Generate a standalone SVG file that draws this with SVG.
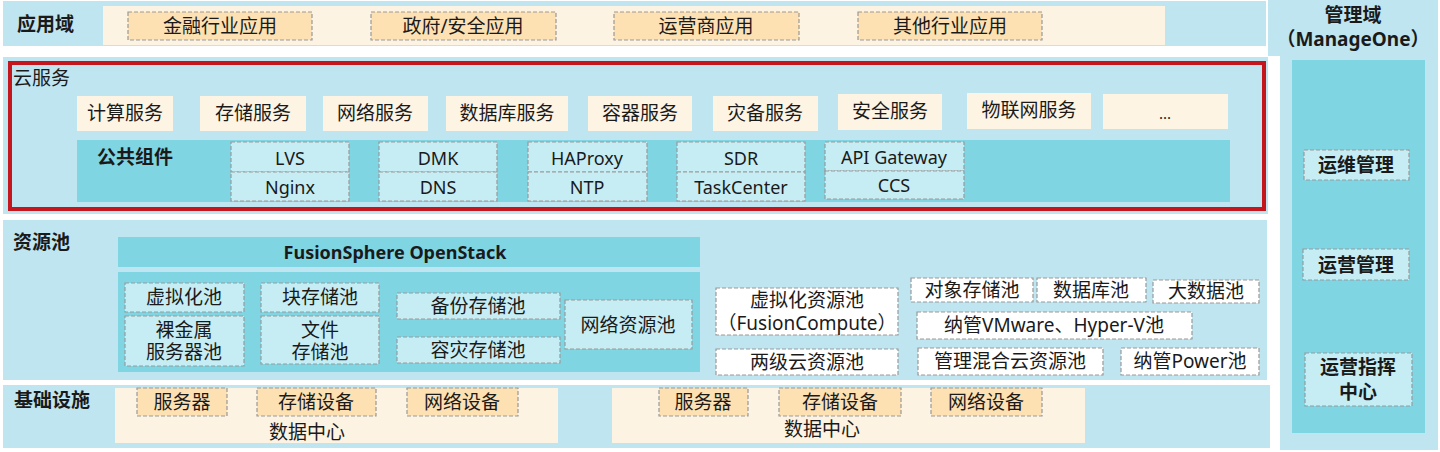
<svg xmlns="http://www.w3.org/2000/svg" width="1440" height="452" viewBox="0 0 1440 452">
<style>
text{font-family:"Noto Sans","Noto Sans CJK SC",sans-serif;font-size:19px;fill:#1a1a1a;text-anchor:middle;dominant-baseline:central}
.lbl{text-anchor:start;font-weight:bold}
.b{font-weight:bold}
.band{fill:#bfe5f0}
.dark{fill:#80d5e3}
.cream{fill:#fdf3e2}
.svc{fill:#fdf4e4}
.app{fill:#fde1b3;stroke:#999;stroke-width:1.2;stroke-dasharray:4 2}
.cmp{fill:#c7edf4;stroke:#999;stroke-width:1.2;stroke-dasharray:4 2}
.wht{fill:#ffffff;stroke:#999;stroke-width:1.2;stroke-dasharray:4 2}
.cmpt{font-size:18px}
</style>
<rect width="1440" height="452" fill="#ffffff"/>

<g id="app-domain">
<rect class="band" x="3" y="1" width="1263" height="45"/>
<rect class="cream" x="103" y="6" width="1062" height="39"/>
<text class="lbl" x="17" y="24">应用域</text>
<g id="app-finance"><rect class="app" x="128" y="12" width="184" height="28"/><text x="220" y="26">金融行业应用</text></g>
<g id="app-gov"><rect class="app" x="371" y="12" width="185" height="28"/><text x="463" y="26">政府/安全应用</text></g>
<g id="app-carrier"><rect class="app" x="614" y="12" width="185" height="28"/><text x="706" y="26">运营商应用</text></g>
<g id="app-other"><rect class="app" x="858" y="12" width="184" height="28"/><text x="950" y="26">其他行业应用</text></g>
</g>

<g id="cloud-service">
<rect class="band" x="3" y="57" width="1265" height="157"/>
<rect x="10" y="63" width="1254" height="146" fill="#bfe5f0" stroke="#c4161c" stroke-width="4"/>
<text x="13" y="78" style="text-anchor:start">云服务</text>
<g id="svc-compute"><rect class="svc" x="77" y="96" width="96" height="35"/><text x="125" y="113">计算服务</text></g>
<g id="svc-storage"><rect class="svc" x="200" y="96" width="106" height="35"/><text x="253" y="113">存储服务</text></g>
<g id="svc-network"><rect class="svc" x="323" y="96" width="105" height="35"/><text x="375" y="113">网络服务</text></g>
<g id="svc-db"><rect class="svc" x="446" y="96" width="122" height="35"/><text x="507" y="113">数据库服务</text></g>
<g id="svc-container"><rect class="svc" x="588" y="96" width="104" height="35"/><text x="640" y="113">容器服务</text></g>
<g id="svc-dr"><rect class="svc" x="713" y="96" width="105" height="35"/><text x="765" y="113">灾备服务</text></g>
<g id="svc-security"><rect class="svc" x="838" y="94" width="104" height="36"/><text x="890" y="111">安全服务</text></g>
<g id="svc-iot"><rect class="svc" x="967" y="93" width="124" height="36"/><text x="1029" y="110">物联网服务</text></g>
<g id="svc-more"><rect class="svc" x="1103" y="94" width="125" height="35"/><text x="1165" y="113" style="font-size:15px">...</text></g>
<g id="public-components">
<rect class="dark" x="77" y="140" width="1153" height="62"/>
<text class="lbl" x="97" y="157">公共组件</text>
<g id="cmp-lvs"><rect class="cmp" x="231" y="142" width="118" height="30"/><rect class="cmp" x="231" y="172" width="118" height="29"/><text class="cmpt" x="290" y="158">LVS</text><text class="cmpt" x="290" y="187">Nginx</text></g>
<g id="cmp-dmk"><rect class="cmp" x="379" y="142" width="118" height="30"/><rect class="cmp" x="379" y="172" width="118" height="29"/><text class="cmpt" x="438" y="158">DMK</text><text class="cmpt" x="438" y="187">DNS</text></g>
<g id="cmp-haproxy"><rect class="cmp" x="528" y="142" width="119" height="30"/><rect class="cmp" x="528" y="172" width="119" height="29"/><text class="cmpt" x="587" y="158">HAProxy</text><text class="cmpt" x="587" y="187">NTP</text></g>
<g id="cmp-sdr"><rect class="cmp" x="677" y="142" width="128" height="30"/><rect class="cmp" x="677" y="172" width="128" height="29"/><text class="cmpt" x="741" y="158">SDR</text><text class="cmpt" x="741" y="187">TaskCenter</text></g>
<g id="cmp-api"><rect class="cmp" x="825" y="142" width="139" height="29"/><rect class="cmp" x="825" y="171" width="139" height="28"/><text class="cmpt" x="894" y="157">API Gateway</text><text class="cmpt" x="894" y="185">CCS</text></g>
</g>
</g>

<g id="resource-pool">
<rect class="band" x="3" y="220" width="1264" height="160"/>
<text class="lbl" x="13" y="242">资源池</text>
<g id="fusionsphere">
<rect class="dark" x="118" y="237" width="582" height="30"/>
<text class="b" x="395" y="252" style="font-size:18px">FusionSphere OpenStack</text>
<rect class="dark" x="118" y="272" width="582" height="100"/>
<g id="pool-virt"><rect class="cmp" x="125" y="283" width="119" height="29"/><text x="184" y="297">虚拟化池</text></g>
<g id="pool-bm"><rect class="cmp" x="125" y="316" width="119" height="50"/><text x="184" y="330">裸金属</text><text x="184" y="352">服务器池</text></g>
<g id="pool-block"><rect class="cmp" x="261" y="283" width="118" height="29"/><text x="320" y="297">块存储池</text></g>
<g id="pool-file"><rect class="cmp" x="261" y="316" width="118" height="48"/><text x="320" y="330">文件</text><text x="320" y="352">存储池</text></g>
<g id="pool-backup"><rect class="cmp" x="397" y="293" width="163" height="26"/><text x="478" y="306">备份存储池</text></g>
<g id="pool-drs"><rect class="cmp" x="397" y="337" width="163" height="26"/><text x="478" y="350">容灾存储池</text></g>
<g id="pool-net"><rect class="cmp" x="565" y="300" width="127" height="49"/><text x="628" y="325">网络资源池</text></g>
</g>
<g id="pool-fc"><rect class="wht" x="716" y="288" width="182" height="47"/><text x="807" y="300">虚拟化资源池</text><text x="807" y="323">（FusionCompute）</text></g>
<g id="pool-2cloud"><rect class="wht" x="716" y="349" width="182" height="26"/><text x="807" y="362">两级云资源池</text></g>
<g id="pool-obj"><rect class="wht" x="911" y="278" width="122" height="24"/><text x="972" y="290">对象存储池</text></g>
<g id="pool-dbp"><rect class="wht" x="1037" y="278" width="109" height="24"/><text x="1091" y="290">数据库池</text></g>
<g id="pool-bigdata"><rect class="wht" x="1153" y="280" width="106" height="23"/><text x="1206" y="291">大数据池</text></g>
<g id="pool-vmware"><rect class="wht" x="917" y="312" width="275" height="27"/><text x="1054" y="325">纳管VMware、Hyper-V池</text></g>
<g id="pool-hybrid"><rect class="wht" x="918" y="348" width="185" height="27"/><text x="1010" y="361">管理混合云资源池</text></g>
<g id="pool-power"><rect class="wht" x="1121" y="348" width="138" height="27"/><text x="1190" y="361">纳管Power池</text></g>
</g>

<g id="infrastructure">
<rect class="band" x="3" y="385" width="1267" height="63"/>
<text class="lbl" x="14" y="400">基础设施</text>
<g id="dc1">
<rect class="cream" x="115" y="388" width="443" height="55"/>
<g id="dc1-server"><rect class="app" x="137" y="388" width="90" height="28"/><text x="182" y="402">服务器</text></g>
<g id="dc1-storage"><rect class="app" x="257" y="388" width="119" height="28"/><text x="316" y="402">存储设备</text></g>
<g id="dc1-network"><rect class="app" x="407" y="388" width="111" height="28"/><text x="462" y="402">网络设备</text></g>
<text x="307" y="432">数据中心</text>
</g>
<g id="dc2">
<rect class="cream" x="612" y="388" width="473" height="55"/>
<g id="dc2-server"><rect class="app" x="659" y="388" width="89" height="28"/><text x="703" y="402">服务器</text></g>
<g id="dc2-storage"><rect class="app" x="779" y="388" width="122" height="28"/><text x="840" y="402">存储设备</text></g>
<g id="dc2-network"><rect class="app" x="931" y="388" width="111" height="28"/><text x="986" y="402">网络设备</text></g>
<text x="822" y="429">数据中心</text>
</g>
</g>

<g id="management-domain">
<path class="band" d="M1268 0H1438V450H1280V56H1268Z"/>
<text class="b" x="1353" y="15">管理域</text>
<text class="b" x="1353" y="39">（ManageOne）</text>
<rect class="dark" x="1292" y="60" width="133" height="373"/>
<g id="mgmt-om"><rect class="cmp" x="1304" y="150" width="105" height="30"/><text class="b" x="1356" y="165">运维管理</text></g>
<g id="mgmt-ops"><rect class="cmp" x="1303" y="249" width="106" height="31"/><text class="b" x="1356" y="265">运营管理</text></g>
<g id="mgmt-center"><rect class="cmp" x="1305" y="353" width="107" height="53"/><text class="b" x="1358" y="367">运营指挥</text><text class="b" x="1358" y="392">中心</text></g>
</g>

<g id="connectors"></g>
</svg>
